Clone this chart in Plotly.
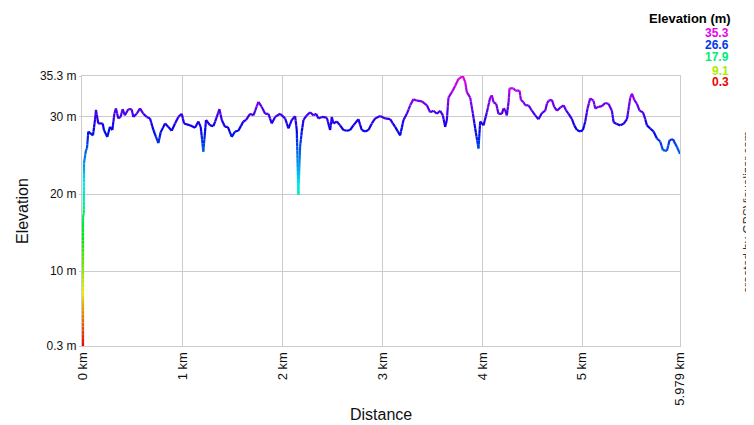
import colorsys
import plotly.graph_objects as go

# ---- data ----
distance_km = [
    0.000, 0.000, 0.008, 0.010, 0.030, 0.040, 0.053, 0.100, 0.120, 0.130, 0.153, 0.197, 0.210, 0.243,
    0.270, 0.294, 0.314, 0.330, 0.354, 0.377, 0.397, 0.420, 0.454, 0.487, 0.504, 0.538, 0.571, 0.604,
    0.638, 0.671, 0.705, 0.731, 0.755, 0.778, 0.822, 0.855, 0.888, 0.922, 0.955, 0.989, 1.012, 1.072,
    1.122, 1.155, 1.179, 1.205, 1.232, 1.273, 1.306, 1.340, 1.366, 1.390, 1.423, 1.450, 1.490, 1.523,
    1.556, 1.606, 1.633, 1.673, 1.707, 1.757, 1.790, 1.824, 1.857, 1.890, 1.924, 1.974, 2.024, 2.058,
    2.091, 2.124, 2.141, 2.150, 2.157, 2.174, 2.191, 2.208, 2.241, 2.275, 2.308, 2.335, 2.358, 2.392,
    2.442, 2.475, 2.492, 2.508, 2.542, 2.575, 2.608, 2.642, 2.675, 2.708, 2.758, 2.792, 2.826, 2.859,
    2.893, 2.926, 2.976, 3.026, 3.076, 3.126, 3.176, 3.210, 3.243, 3.277, 3.310, 3.344, 3.394, 3.444,
    3.477, 3.510, 3.544, 3.577, 3.604, 3.627, 3.644, 3.660, 3.694, 3.727, 3.760, 3.804, 3.828, 3.844,
    3.878, 3.905, 3.928, 3.961, 3.978, 4.011, 4.045, 4.078, 4.095, 4.111, 4.138, 4.161, 4.195, 4.212,
    4.228, 4.245, 4.262, 4.272, 4.312, 4.329, 4.372, 4.386, 4.412, 4.429, 4.462, 4.496, 4.529, 4.562,
    4.596, 4.629, 4.646, 4.662, 4.696, 4.719, 4.746, 4.780, 4.813, 4.840, 4.863, 4.897, 4.920, 4.947,
    4.980, 5.007, 5.030, 5.053, 5.080, 5.113, 5.130, 5.163, 5.197, 5.230, 5.263, 5.297, 5.314, 5.341,
    5.381, 5.414, 5.448, 5.481, 5.498, 5.521, 5.548, 5.574, 5.608, 5.631, 5.648, 5.681, 5.714, 5.748,
    5.781, 5.808, 5.848, 5.875, 5.909, 5.932, 5.949, 5.979,
]
elevation_m = [
    0.3, 17.0, 17.5, 24.0, 25.7, 25.9, 28.1, 27.6, 29.6, 30.9, 29.15, 29.15, 28.3, 27.4,
    28.7, 28.3, 30.4, 31.1, 29.8, 30.0, 31.0, 30.2, 31.0, 31.0, 30.0, 30.4, 31.1, 30.4,
    30.0, 29.8, 28.3, 27.4, 26.6, 28.0, 29.15, 28.7, 28.2, 29.15, 30.0, 30.4, 29.15, 28.9,
    28.6, 29.4, 28.7, 25.5, 29.6, 28.9, 28.8, 30.0, 31.0, 29.6, 28.7, 28.7, 27.4, 28.1,
    28.2, 29.4, 29.6, 30.4, 30.2, 31.95, 31.3, 30.4, 30.4, 29.15, 30.0, 30.4, 29.8, 28.5,
    29.6, 30.1, 28.3, 23.5, 19.9, 26.1, 28.1, 29.6, 30.2, 30.6, 30.2, 30.4, 29.8, 30.0,
    29.9, 28.3, 30.0, 29.15, 29.4, 28.9, 28.3, 28.2, 28.3, 28.9, 29.7, 28.3, 28.1, 28.3,
    29.15, 29.8, 30.1, 29.8, 29.7, 28.7, 27.6, 29.6, 30.4, 31.5, 32.3, 32.1, 32.0, 31.5,
    30.6, 30.8, 30.4, 30.8, 30.2, 28.7, 29.6, 32.5, 33.2, 34.0, 34.9, 35.3, 34.5, 33.2,
    32.5, 30.4, 28.5, 25.9, 29.4, 28.9, 30.6, 32.5, 32.8, 31.9, 31.7, 30.4, 30.4, 31.1,
    30.9, 30.2, 31.9, 33.7, 33.7, 33.4, 33.4, 32.2, 31.9, 31.5, 31.5, 30.8, 30.2, 29.7,
    30.5, 30.8, 31.7, 32.1, 32.2, 31.3, 30.8, 31.2, 31.5, 30.8, 30.4, 29.7, 28.9, 28.3,
    28.1, 28.3, 29.4, 31.1, 32.4, 32.1, 31.1, 31.3, 31.4, 31.8, 31.7, 30.8, 29.3, 29.1,
    28.9, 29.1, 29.7, 32.5, 33.0, 32.2, 31.7, 30.8, 30.6, 29.7, 28.9, 28.5, 28.1, 27.2,
    26.8, 25.7, 25.6, 27.0, 27.1, 26.5, 26.1, 25.2,
]
x_tick_vals = [0, 1, 2, 3, 4, 5, 5.979]
x_tick_text = ["0 km", "1 km", "2 km", "3 km", "4 km", "5 km", "5.979 km"]
y_tick_vals = [0.3, 10, 20, 30, 35.3]
y_tick_text = ["0.3 m", "10 m", "20 m", "30 m", "35.3 m"]
legend_values = [35.3, 26.6, 17.9, 9.1, 0.3]

E_MIN, E_MAX = 0.3, 35.3
X_MIN, X_MAX = -0.01, 5.979


def elev_color(e):
    t = max(0.0, min(1.0, (e - E_MIN) / (E_MAX - E_MIN)))
    r, g, b = colorsys.hsv_to_rgb(t * 300.0 / 360.0, 1.0, 0.92)
    return "rgb(%d,%d,%d)" % (round(r * 255), round(g * 255), round(b * 255))


# ---- layout geometry (window pixels); the page body adds an 8px offset ----
W, H = 754, 425
OFF = 8
L, R, T, B = 82, 680, 76, 346
FONT = "Arial, Liberation Sans, sans-serif"


def px(x):
    return (x - L) / (R - L)


def py(y):
    return (B - y) / (B - T)


# ---- build colour-graded segments ----
groups = {}
for i in range(len(distance_km) - 1):
    x0, x1 = distance_km[i], distance_km[i + 1]
    y0, y1 = elevation_m[i], elevation_m[i + 1]
    n = max(1, int(abs(y1 - y0) / 0.5))
    for k in range(n):
        a, b = k / n, (k + 1) / n
        xa, xb = x0 + (x1 - x0) * a, x0 + (x1 - x0) * b
        ya, yb = y0 + (y1 - y0) * a, y0 + (y1 - y0) * b
        q = round(((ya + yb) / 2) * 4) / 4
        c = elev_color(q)
        gx, gy = groups.setdefault(c, ([], []))
        gx += [xa, xb, None]
        gy += [ya, yb, None]

fig = go.Figure()
for c, (gx, gy) in groups.items():
    fig.add_trace(go.Scatter(x=gx, y=gy, mode="lines",
                             line=dict(color=c, width=2.2),
                             hoverinfo="skip", showlegend=False))

axis_common = dict(showgrid=True, gridcolor="#cccccc", gridwidth=1,
                   showline=True, linecolor="#cccccc", linewidth=1, mirror=True,
                   zeroline=False, layer="below traces")

fig.update_xaxes(range=[X_MIN, X_MAX], tickmode="array", tickvals=x_tick_vals,
                 ticktext=x_tick_text, tickangle=-90, ticks="",
                 tickfont=dict(family=FONT, size=13, color="#111"), **axis_common)
fig.update_yaxes(range=[E_MIN, E_MAX], tickmode="array", tickvals=y_tick_vals,
                 ticktext=y_tick_text, ticks="outside", ticklen=2, tickcolor="#cccccc",
                 tickfont=dict(family=FONT, size=12, color="#111"), **axis_common)

ann = []
ann.append(dict(text="<b>Elevation (m)</b>", x=px(733), y=py(18.5), xanchor="right",
                yanchor="middle", font=dict(family=FONT, size=13, color="black")))
for v, yy in zip(legend_values, [32.7, 44.6, 57.3, 70.7, 82.5]):
    ann.append(dict(text="<b>%s</b>" % v, x=px(731), y=py(yy), xanchor="right",
                    yanchor="middle", font=dict(family=FONT, size=12, color=elev_color(v))))
ann.append(dict(text="Elevation", x=px(22), y=py(211), textangle=-90, xanchor="center",
                yanchor="middle", font=dict(family=FONT, size=16, color="#111")))
ann.append(dict(text="Distance", x=px(381), y=py(414), xanchor="center",
                yanchor="middle", font=dict(family=FONT, size=16, color="#111")))
ann.append(dict(text="created by GPSVisualizer.com", x=px(748), y=py(212), textangle=-90,
                xanchor="center", yanchor="middle", font=dict(family=FONT, size=12, color="#333")))
for a in ann:
    a.update(xref="paper", yref="paper", showarrow=False)

fig.update_layout(width=W - OFF, height=H - OFF,
                  margin=dict(l=L - OFF, r=W - R, t=T - OFF, b=H - B, pad=0),
                  paper_bgcolor="white", plot_bgcolor="white", annotations=ann,
                  showlegend=False)

fig.write_html("out.html")
